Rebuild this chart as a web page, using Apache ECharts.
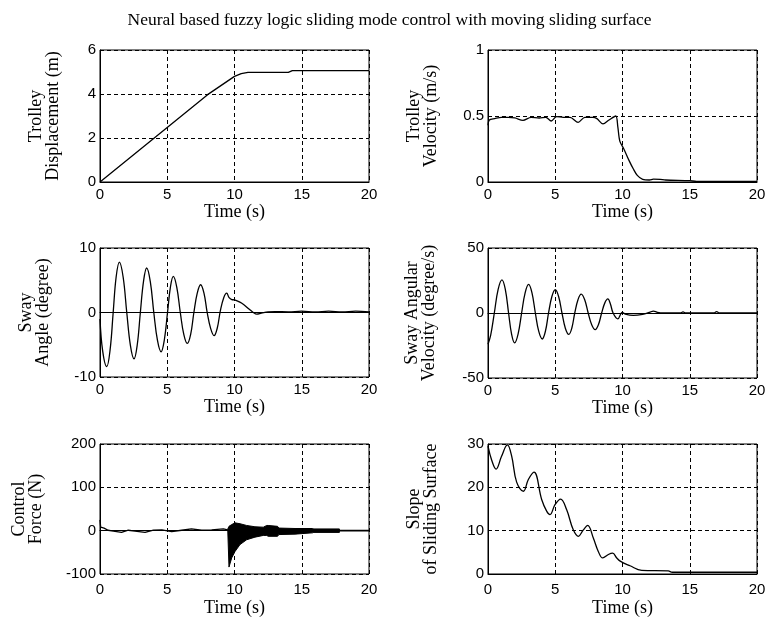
<!DOCTYPE html>
<html><head><meta charset="utf-8">
<script src="https://cdn.jsdelivr.net/npm/echarts@6/dist/echarts.min.js"></script>
<style>html,body{margin:0;padding:0;background:#fff}#c{width:779px;height:625px}</style>
</head><body><div id="c"></div>
<script>
const titleText = "Neural based fuzzy logic sliding mode control with moving sliding surface";
const xName = "Time (s)";

const dispT = [0, 8, 10, 10.5, 11, 14, 14.3, 20];
const dispV = [0, 3.97, 4.8, 4.93, 4.98, 4.98, 5.06, 5.06];

const velT = [0, 0.1, 0.5, 1, 1.5, 2, 2.6, 3.2, 3.8, 4.3, 4.7, 5.1, 5.6, 6.1, 6.7, 7.2, 7.8, 8.1, 8.55, 9.0, 9.5, 9.65, 9.8, 10.1, 10.5, 10.8, 11.1, 11.5, 12, 12.3, 12.8, 13.2, 15, 15.5, 20];
const velV = [0.43, 0.47, 0.48, 0.49, 0.49, 0.485, 0.467, 0.49, 0.485, 0.49, 0.462, 0.495, 0.49, 0.49, 0.452, 0.49, 0.49, 0.48, 0.44, 0.47, 0.5, 0.42, 0.31, 0.25, 0.16, 0.1, 0.05, 0.02, 0.015, 0.022, 0.02, 0.015, 0.01, 0.005, 0.005];

const angT = [0, 0.2, 0.5, 0.75, 0.98, 1.2, 1.44, 1.72, 1.99, 2.26, 2.53, 2.77, 3.0, 3.24, 3.47, 3.74, 4.0, 4.27, 4.54, 4.78, 5.02, 5.24, 5.45, 5.71, 5.97, 6.23, 6.49, 6.74, 6.98, 7.23, 7.48, 7.73, 7.97, 8.23, 8.48, 8.72, 8.95, 9.2, 9.42, 9.6, 9.8, 10.0, 10.4, 10.7, 11.1, 11.4, 11.65, 12, 12.5, 13, 14, 15, 16, 17, 18, 19, 20];
const angV = [-1, -6, -8.4, -5.8, 0, 5.5, 7.8, 5.5, 0, -5.1, -7.2, -5, 0, 4.9, 6.9, 4.8, 0, -4.3, -6.1, -4.3, 0, 4, 5.6, 3.9, 0, -3.4, -4.8, -3.4, 0, 3, 4.3, 3, 0, -2.5, -3.6, -2.4, 0.3, 2.3, 3.0, 2.3, 2.0, 1.95, 1.6, 1.2, 0.5, 0.0, -0.25, -0.1, 0.1, 0.15, 0.1, 0.2, 0.1, 0.2, 0.1, 0.2, 0.1];

const angVelT = [0, 0.2, 0.47, 0.75, 1.04, 1.29, 1.53, 1.75, 1.98, 2.24, 2.5, 2.76, 3.02, 3.27, 3.52, 3.77, 4.03, 4.27, 4.5, 4.75, 5.0, 5.25, 5.5, 5.75, 6.01, 6.23, 6.45, 6.69, 6.93, 7.19, 7.45, 7.71, 7.97, 8.21, 8.45, 8.68, 8.91, 9.1, 9.3, 9.65, 9.98, 10.2, 10.8, 11.5, 12.0, 12.3, 12.6, 13, 14.3, 14.5, 14.7, 16.8, 17, 17.2, 20];
const angVelV = [-24, -17, 0, 18, 25.5, 18, 0, -16, -23, -16, 0, 15.5, 22, 15.5, 0, -14, -20, -14, 0, 12.7, 18, 12.7, 0, -11.7, -16.5, -11.7, 0, 10.2, 14.5, 10.2, 0, -9, -12.8, -9, 0, 7.6, 10.8, 7, 0, -4.5, 0.5, -0.8, -1.8, -1, 0.5, 1.5, 0.5, 0, 0, 0.8, 0, 0, 1, 0, 0];

const forceT = [0, 0.05, 0.3, 0.6, 1.0, 1.6, 2.1, 2.6, 3.35, 3.97, 4.6, 5.33, 6.07, 6.8, 7.56, 8.3, 9.17, 9.5];
const forceV = [25, 8, 6, 1, -1, -4, 1, -1, -4, 1, 2, -2, 1, 4, 1, 2, 4, 2];
const forceTailT = [17.8, 20];
const forceTailV = [0, 0];
const bandT = [9.5, 9.59, 9.79, 10.04, 10.41, 10.9, 11.52, 12.14, 12.4, 12.5, 13.2, 13.3, 14.5, 15.8, 15.9, 17.8];
const bandUpper = [4, 10, 14, 18, 16, 12, 9, 8, 12, 12, 10, 6, 5, 5, 4, 4];
const bandLower = [0, -84, -63, -48, -32, -21, -15, -11, -11, -13, -13, -9, -8, -5, -4, -4];

const slopeT = [0, 0.27, 0.6, 1.0, 1.44, 1.76, 2.13, 2.63, 3.0, 3.42, 3.99, 4.36, 4.61, 4.98, 5.4, 5.85, 6.34, 6.72, 7.09, 7.41, 7.83, 8.2, 8.53, 8.95, 9.27, 9.57, 9.86, 10.56, 11.43, 13.4, 13.7, 20];
const slopeV = [29.5, 26.3, 24.2, 27.1, 29.8, 27.2, 21.2, 19.1, 21.8, 23.5, 17.2, 14.5, 13.7, 16, 17.3, 14.8, 10.2, 8.7, 10.2, 11.2, 8.3, 5.2, 3.7, 4.5, 4.8, 3.7, 2.9, 1.9, 0.85, 0.7, 0.4, 0.4];

const yNames = ["Trolley\nDisplacement (m)", "Trolley\nVelocity (m/s)", "Sway\nAngle (degree)", "Sway Angular\nVelocity (degree/s)", "Control\nForce (N)", "Slope\nof Sliding Surface"];
const yMin = [0, 0, -10, -50, -100, 0];
const yMax = [6, 1, 10, 50, 200, 30];
const yInt = [2, 0.5, 10, 50, 100, 10];
const yGap = [38, 48, 48, 50, 55, 48];

const zip = (t, v) => t.map((x, i) => [x, v[i]]);

const grids = [
  {left: 100, top: 50, width: 269, height: 132},
  {left: 488, top: 50, width: 269, height: 132},
  {left: 100, top: 248, width: 269, height: 129},
  {left: 488, top: 248, width: 269, height: 130},
  {left: 100, top: 444, width: 269, height: 130},
  {left: 488, top: 444, width: 269, height: 130}
].map(g => Object.assign(g, {show: true, borderColor: '#000', borderWidth: 1, containLabel: false}));

const tickFont = {color: '#000', fontFamily: 'Liberation Sans', fontSize: 15};
const nameFont = {color: '#000', fontFamily: 'Liberation Serif', fontSize: 18, lineHeight: 17};
const dashed = {show: true, lineStyle: {color: '#000', type: [4, 3], width: 1}};

const xAxes = grids.map((g, i) => ({
  type: 'value', gridIndex: i, min: 0, max: 20, interval: 5,
  axisLine: {show: true, lineStyle: {color: '#000'}}, axisTick: {show: false},
  axisLabel: Object.assign({margin: i >= 4 ? 8 : 5}, tickFont),
  splitLine: dashed,
  name: xName, nameLocation: 'middle', nameGap: i >= 4 ? 26 : (i >= 2 ? 16 : 14),
  nameTextStyle: nameFont
}));
const yAxes = grids.map((g, i) => ({
  type: 'value', gridIndex: i, min: yMin[i], max: yMax[i], interval: yInt[i],
  axisLine: {show: true, lineStyle: {color: '#000'}}, axisTick: {show: false},
  axisLabel: Object.assign({margin: 4}, tickFont),
  splitLine: dashed,
  name: yNames[i], nameLocation: 'middle', nameRotate: 90, nameGap: yGap[i],
  nameTextStyle: nameFont
}));

const lineBase = {type: 'line', showSymbol: false, symbol: 'none', lineStyle: {color: '#000', width: 1.3}, animation: false};
const series = [
  Object.assign({}, lineBase, {xAxisIndex: 0, yAxisIndex: 0, data: zip(dispT, dispV)}),
  Object.assign({}, lineBase, {xAxisIndex: 1, yAxisIndex: 1, data: zip(velT, velV), smooth: 0.3}),
  Object.assign({}, lineBase, {xAxisIndex: 2, yAxisIndex: 2, data: zip(angT, angV), smooth: 0.4}),
  Object.assign({}, lineBase, {xAxisIndex: 3, yAxisIndex: 3, data: zip(angVelT, angVelV), smooth: 0.4}),
  Object.assign({}, lineBase, {xAxisIndex: 4, yAxisIndex: 4, data: zip(forceT, forceV)}),
  Object.assign({}, lineBase, {xAxisIndex: 4, yAxisIndex: 4, data: zip(forceTailT, forceTailV), lineStyle: {color: '#000', width: 1.6}}),
  {
    type: 'custom', xAxisIndex: 4, yAxisIndex: 4, animation: false,
    data: [[bandT[0], bandLower[0]]],
    encode: {x: 0, y: 1},
    renderItem: function (params, api) {
      const pts = [];
      for (let i = 0; i < bandT.length; i++) pts.push(api.coord([bandT[i], bandUpper[i]]));
      for (let i = bandT.length - 1; i >= 0; i--) pts.push(api.coord([bandT[i], bandLower[i]]));
      return {type: 'polygon', shape: {points: pts}, style: {fill: '#000', stroke: '#000', lineWidth: 1}};
    }
  },
  Object.assign({}, lineBase, {xAxisIndex: 5, yAxisIndex: 5, data: zip(slopeT, slopeV), smooth: 0.4})
];

const chart = echarts.init(document.getElementById('c'), null, {renderer: 'canvas'});
chart.setOption({
  backgroundColor: '#fff',
  animation: false,
  title: {text: titleText, left: 'center', top: 6, textStyle: {color: '#000', fontFamily: 'Liberation Serif', fontSize: 17.5, fontWeight: 'normal'}},
  grid: grids, xAxis: xAxes, yAxis: yAxes, series: series
});
</script>
</body></html>
